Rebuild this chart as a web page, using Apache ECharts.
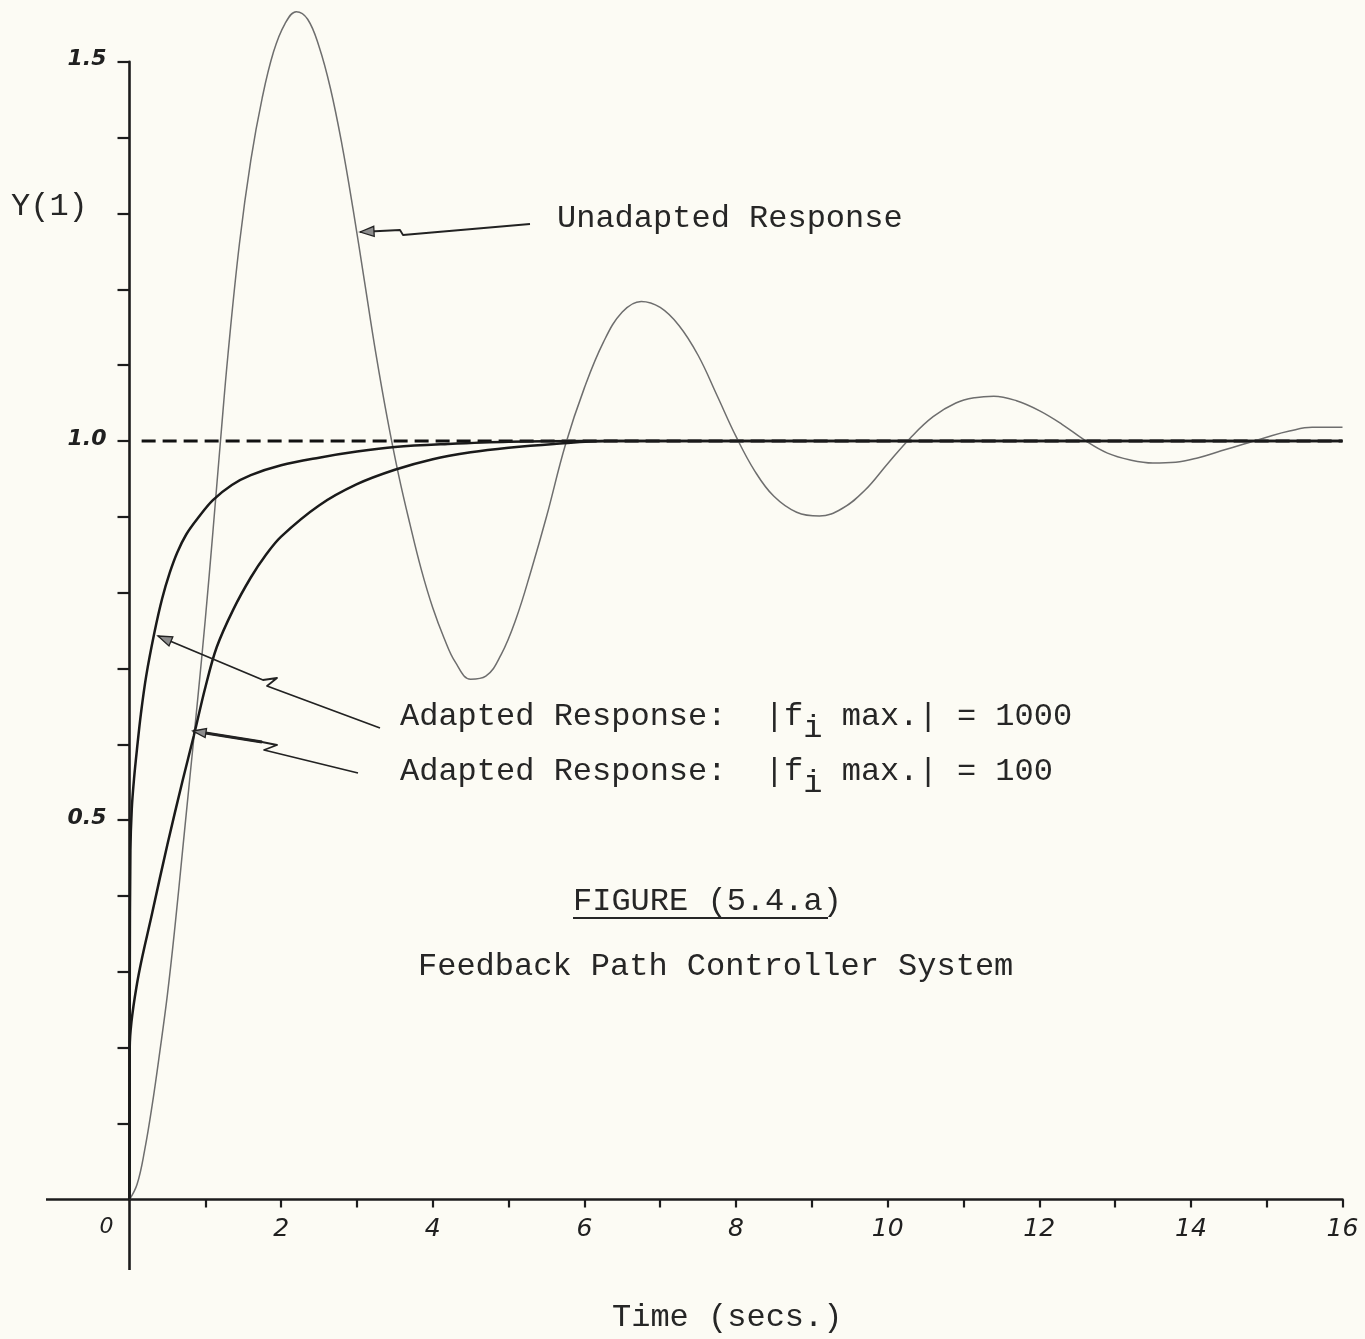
<!DOCTYPE html>
<html>
<head>
<meta charset="utf-8">
<script src="https://cdn.jsdelivr.net/npm/echarts@6/dist/echarts.min.js"></script>
<style>
html,body{margin:0;padding:0;background:#fcfbf4;}
#chart{width:1365px;height:1339px;}
</style>
</head>
<body>
<div id="chart"></div>
<script>
// ---- data ----
const unadaptedT = [0,0.1,0.2,0.3,0.4,0.5,0.6,0.7,0.8,0.9,
  1.0,1.1,1.2,1.3,1.45,1.6,1.75,1.9,2.05,2.2,
  2.35,2.5,2.65,2.8,2.95,3.1,3.25,3.4,3.55,3.7,
  3.85,4.0,4.15,4.3,4.5,4.7,4.9,5.1,5.3,5.5,
  5.75,6.0,6.25,6.5,6.75,7.0,7.25,7.5,7.75,8.0,
  8.25,8.5,8.8,9.1,9.4,9.7,10.0,10.3,10.6,10.9,
  11.15,11.4,11.7,12.0,12.3,12.6,12.9,13.2,13.5,13.8,
  14.1,14.4,14.7,15.0,15.3,15.6,16.0];
const unadaptedY = [0,0.02,0.065,0.125,0.195,0.27,0.36,0.46,0.56,0.66,
  0.765,0.88,1.0,1.115,1.26,1.37,1.452,1.513,1.55,1.566,
  1.556,1.52,1.465,1.392,1.305,1.21,1.115,1.03,0.955,0.89,
  0.83,0.78,0.74,0.708,0.686,0.69,0.718,0.766,0.83,0.9,
  0.995,1.07,1.13,1.17,1.184,1.176,1.152,1.113,1.06,1.006,
  0.96,0.927,0.906,0.901,0.911,0.935,0.97,1.004,1.032,1.05,
  1.057,1.059,1.053,1.04,1.022,1.001,0.984,0.975,0.971,0.972,
  0.978,0.987,0.996,1.005,1.013,1.018,1.018];

const adapted1000T = [0,0.004,0.012,0.03,0.06,0.1,0.15,0.22,0.33,0.43,0.53,0.63,0.75,0.9,1.1,1.35,1.6,2.0,2.5,3.0,3.5,4.2,5.0,6.0,16];
const adapted1000Y = [0,0.3,0.46,0.515,0.555,0.595,0.64,0.69,0.748,0.792,0.826,0.853,0.877,0.898,0.922,0.942,0.955,0.968,0.978,0.986,0.992,0.996,0.999,1.0,1.0];

const adapted100T = [0,0.003,0.1,0.3,0.5,0.7,0.85,1.0,1.15,1.37,1.6,1.8,2.0,2.5,3.0,3.5,4.0,4.5,5.0,5.6,6.3,16];
const adapted100Y = [0,0.2,0.285,0.378,0.468,0.552,0.612,0.675,0.728,0.778,0.82,0.85,0.874,0.915,0.943,0.962,0.976,0.985,0.991,0.996,1.0,1.0];

const referenceT = [0.16,16];
const referenceY = [1,1];

const xTicks = [1,2,3,4,5,6,7,8,9,10,11,12,13,14,15,16];
const xTickLabels = [0,2,4,6,8,10,12,14,16];
const yTicks = [0.1,0.2,0.3,0.4,0.5,0.6,0.7,0.8,0.9,1.0,1.1,1.2,1.3,1.4,1.5];
const yTickLabels = [0.5,1.0,1.5];

// ---- helpers ----
const pairs = (ts, ys) => ts.map((t, i) => [t, ys[i]]);
const INK = '#1c1c1c';
const MONO = '"Liberation Mono", "DejaVu Sans Mono", monospace';
const HAND = '"DejaVu Sans", sans-serif';

function arrowHead(tip, from, len, wid) {
  const dx = tip[0]-from[0], dy = tip[1]-from[1];
  const d = Math.hypot(dx, dy);
  const ux = dx/d, uy = dy/d, nx = -uy, ny = ux;
  const bx = tip[0]-ux*len, by = tip[1]-uy*len;
  return {
    type:'polygon', z:20,
    shape:{points:[tip,[bx+nx*wid/2, by+ny*wid/2],[bx-nx*wid/2, by-ny*wid/2]]},
    style:{fill:'#8c8c8c', stroke:'#222', lineWidth:1.3}
  };
}
function txt(text, x, y) {
  return {
    type:'text', z:20, x:x, y:y,
    style:{text:text, fontFamily:MONO, fontSize:32, fill:'#262626', align:'left', verticalAlign:'middle'}
  };
}
function poly(points, w) {
  return {type:'polyline', z:19, shape:{points:points}, style:{stroke:'#222', lineWidth:w, fill:null, lineJoin:'round'}};
}

const arrowU = [[360,232],[400,230],[403,235],[530,224]];
const arrow1000 = [[158,636],[263,680],[277,678],[267,686],[380,728]];
const arrow100 = [[193,731],[262,742],[277,745],[264,750],[358,773]];

const subRich = { s:{fontFamily:MONO, fontSize:32, fill:'#262626', padding:[24,0,0,0]} };

const GRID = {left:129.5, right:22.5, top:61.7, bottom:139.5};

const option = {
  backgroundColor:'#fcfbf4',
  animation:false,
  grid:{left:GRID.left, right:GRID.right, top:GRID.top, bottom:GRID.bottom, containLabel:false, outerBoundsMode:'none'},
  xAxis:{
    type:'value', min:0, max:16,
    axisLine:{show:true, onZero:false, lineStyle:{color:INK, width:2.6}},
    axisTick:{show:true, customValues:xTicks, length:8, lineStyle:{color:INK, width:2.2}},
    axisLabel:{
      customValues:xTickLabels, margin:17,
      fontFamily:HAND, fontStyle:'italic', fontSize:25, color:'#202020',
      formatter:(v)=> v===0 ? '{z|0}' : String(v),
      rich:{z:{fontFamily:HAND, fontStyle:'italic', fontSize:22, color:'#202020', padding:[0,46,0,0]}}
    },
    splitLine:{show:false}
  },
  yAxis:{
    type:'value', min:0, max:1.5,
    axisLine:{show:true, onZero:false, lineStyle:{color:INK, width:2.6}},
    axisTick:{show:true, customValues:yTicks, length:12, lineStyle:{color:INK, width:2.2}},
    axisLabel:{
      customValues:yTickLabels, margin:23,
      fontFamily:HAND, fontStyle:'italic', fontWeight:'bold', fontSize:22, color:'#202020',
      verticalAlign:'bottom', lineHeight:4,
      formatter:(v)=> v.toFixed(1)
    },
    splitLine:{show:false}
  },
  series:[
    {name:'Reference', type:'line', data:pairs(referenceT, referenceY), symbol:'none', clip:false, z:3,
      lineStyle:{color:'#111', width:3, type:[14,7]}},
    {name:'Unadapted Response', type:'line', data:pairs(unadaptedT, unadaptedY), symbol:'none', clip:false, smooth:0.4, z:4,
      lineStyle:{color:'#6e6e6e', width:1.5}},
    {name:'Adapted |fi max.| = 1000', type:'line', data:pairs(adapted1000T, adapted1000Y), symbol:'none', clip:false, smooth:0.35, z:5,
      lineStyle:{color:'#1a1a1a', width:2.5}},
    {name:'Adapted |fi max.| = 100', type:'line', data:pairs(adapted100T, adapted100Y), symbol:'none', clip:false, smooth:0.35, z:5,
      lineStyle:{color:'#1a1a1a', width:2.5}}
  ],
  graphic:[
    // axis extensions past the origin (left of t=0 and below y=0), as drawn in the original
    {type:'line', z:2, shape:{x1:46, y1:1339-GRID.bottom, x2:GRID.left, y2:1339-GRID.bottom}, style:{stroke:INK, lineWidth:2.6}},
    {type:'line', z:2, shape:{x1:GRID.left, y1:1339-GRID.bottom, x2:GRID.left, y2:1270}, style:{stroke:INK, lineWidth:2.6}},
    txt('Y(1)', 11, 207),
    txt('Unadapted Response', 557, 219),
    poly(arrowU, 1.8),
    arrowHead(arrowU[0], arrowU[1], 14, 10),
    {type:'text', z:20, x:400, y:717, style:{text:'Adapted Response:  |f{s|i} max.| = 1000', fontFamily:MONO, fontSize:32, fill:'#262626', align:'left', verticalAlign:'middle', rich:subRich}},
    {type:'text', z:20, x:400, y:772, style:{text:'Adapted Response:  |f{s|i} max.| = 100', fontFamily:MONO, fontSize:32, fill:'#262626', align:'left', verticalAlign:'middle', rich:subRich}},
    poly(arrow1000, 1.8),
    arrowHead(arrow1000[0], arrow1000[1], 14, 10),
    poly(arrow100, 1.8),
    poly([arrow100[0], arrow100[1]], 3.2),
    arrowHead(arrow100[0], arrow100[1], 13, 9),
    txt('FIGURE (5.4.a)', 573, 902),
    {type:'line', z:20, shape:{x1:573, y1:918, x2:828, y2:918}, style:{stroke:'#262626', lineWidth:2.2}},
    txt('Feedback Path Controller System', 418, 967),
    txt('Time (secs.)', 612, 1318)
  ]
};

const chart = echarts.init(document.getElementById('chart'), null, {renderer:'canvas'});
chart.setOption(option);
</script>
</body>
</html>
